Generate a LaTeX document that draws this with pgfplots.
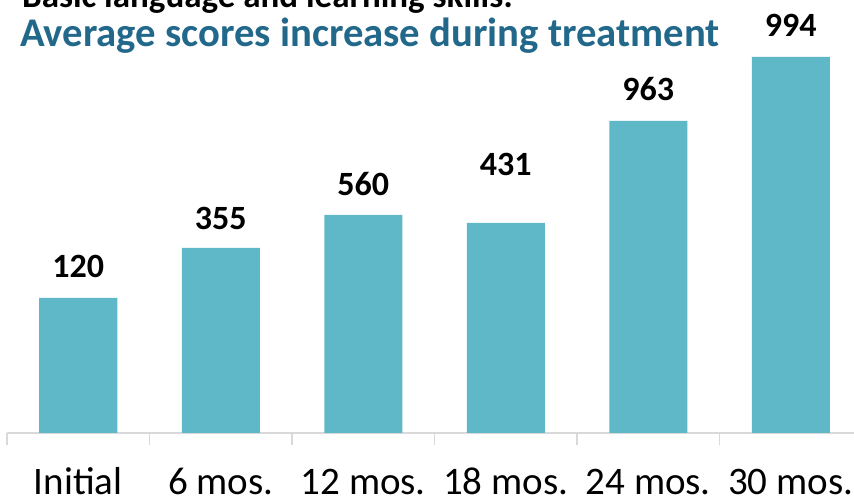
\documentclass[border=0pt]{standalone}
\usepackage{pgfplots}
\pgfplotsset{compat=1.18}
\usepackage{fontspec}
\setmainfont{Carlito}
\definecolor{barcol}{RGB}{94,184,200}
\definecolor{titlecol}{RGB}{34,104,138}
\definecolor{axcol}{RGB}{217,217,217}
\begin{document}
\begin{tikzpicture}[x=1pt,y=1pt]
\begin{axis}[
  scale only axis,
  width=855pt, height=433pt,
  at={(7pt,67pt)}, anchor=south west,
  xmin=-0.5, xmax=5.5, ymin=0, ymax=433,
  axis x line*=bottom,
  hide y axis,
  x axis line style={axcol, line width=1.5pt},
  xtick={0,...,5},
  xticklabels={Initial, 6 mos., 12 mos., 18 mos., 24 mos., 30 mos.},
  minor xtick={-0.5,0.5,...,5.5},
  major tick length=0pt,
  minor tick length=12pt,
  xtick pos=bottom,
  tick align=outside,
  minor tick style={axcol, line width=1.5pt},
  xticklabel style={font=\fontsize{39}{40}\selectfont, anchor=base, yshift=-62pt, inner sep=0pt},
  clip=false,
]
\addplot[ybar, bar width=78pt, fill=barcol, draw=none] coordinates {
  (0,135) (1,185) (2,218) (3,210) (4,312) (5,376)
};
\addplot[draw=none, mark=none, nodes near coords, point meta=explicit symbolic,
  nodes near coords align={center},
  every node near coord/.append style={font=\bfseries\fontsize{34}{36}\selectfont, text=black, inner sep=0pt}]
  table[meta=label] {
x y label
0 167 120
1 215 355
2 249 560
3 269 431
4 344 963
5 407.5 994
};
\end{axis}
\node[anchor=base west, inner sep=0pt, font=\bfseries\fontsize{35}{36}\selectfont, text=black] at (22,492) {Basic language and learning skills:};
\node[anchor=base west, inner sep=0pt, font=\bfseries\fontsize{40.7}{42}\selectfont, text=titlecol] at (20,453) {Average scores increase during treatment};
\pgfresetboundingbox
\useasboundingbox (0,0) rectangle (854,500);
\end{tikzpicture}
\end{document}
